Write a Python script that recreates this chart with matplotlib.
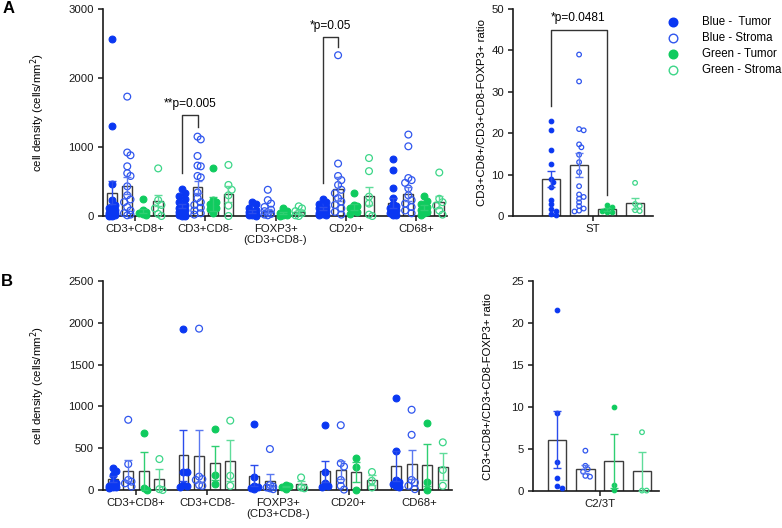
import matplotlib
matplotlib.use('Agg')
import matplotlib.pyplot as plt
from matplotlib.lines import Line2D
import numpy as np

plt.rcParams['font.family'] = ['Liberation Sans', 'DejaVu Sans']
plt.rcParams['font.size'] = 8

# ---------------- data ----------------
categories = ['CD3+CD8+', 'CD3+CD8-', 'FOXP3+\n(CD3+CD8-)', 'CD20+', 'CD68+']
series = ['Blue -  Tumor', 'Blue - Stroma', 'Green - Tumor', 'Green - Stroma']

# Panel A: cell density points per category
A_BT = [[2570, 1300, 470, 230, 160, 120, 90, 70, 50, 40, 30, 20, 10, 5, 0],
        [390, 340, 290, 240, 200, 160, 120, 90, 60, 40, 20, 10, 5, 0],
        [200, 170, 120, 90, 60, 40, 30, 20, 10, 5],
        [240, 200, 170, 130, 110, 90, 70, 50, 30, 20, 10],
        [830, 660, 400, 260, 170, 140, 110, 80, 60, 40, 20, 10]]
A_BS = [[1730, 920, 880, 720, 620, 580, 430, 300, 240, 200, 130, 80, 40, 20, 10],
        [1150, 1110, 870, 730, 720, 580, 560, 340, 260, 200, 160, 120, 80, 40, 20],
        [380, 230, 180, 130, 90, 70, 50, 30, 20, 10],
        [2330, 760, 580, 520, 450, 380, 330, 260, 210, 160, 110, 60, 20],
        [1180, 1010, 550, 520, 480, 400, 300, 230, 180, 130, 80, 40]]
A_GT = [[240, 90, 60, 40, 30, 20],
        [695, 230, 200, 170, 120, 100, 40],
        [120, 70, 40, 20, 10, 5],
        [340, 160, 150, 120, 100, 60, 30],
        [290, 220, 170, 130, 90, 60, 40, 20]]
A_GS = [[690, 230, 160, 110, 30, 0],
        [740, 450, 380, 300, 150, 0],
        [140, 110, 70, 40, 10, 0],
        [840, 650, 280, 180, 20, 0],
        [630, 250, 200, 150, 80, 20]]
A_mean_BT = [339, 145, 70, 111, 193]
A_mean_BS = [440, 416, 75, 386, 319]
A_mean_GT = [77, 179, 40, 133, 126]
A_mean_GS = [220, 319, 60, 290, 198]
A_sem_BT = [170, 35, 20, 25, 75]
A_sem_BS = [120, 85, 30, 175, 100]
A_sem_GT = [30, 100, 15, 40, 35]
A_sem_GS = [80, 110, 25, 130, 85]

# Panel A right: ratio, ST
ST_BT = [23, 20.8, 16, 12.6, 8.9, 8.2, 7.1, 3.8, 2.8, 1.7, 1.3, 0.4, 0.3]
ST_BS = [39, 32.5, 21, 20.7, 17.3, 16.6, 14.8, 13, 10.6, 7.2, 5.2, 4.6, 4.2, 3.3, 2.4, 1.8, 1.3, 1.1]
ST_GT = [2.7, 2.1, 1.6, 1.3, 1.0, 0.9]
ST_GS = [8.0, 2.9, 2.4, 1.4, 1.2]
ST_mean = [8.9, 12.4, 1.6, 3.1]
ST_sem = [2.0, 2.9, 0.3, 1.3]

# Panel B: cell density
B_BT = [[260, 230, 180, 100, 80, 50, 40, 30, 20],
        [1920, 220, 210, 60, 50, 30],
        [790, 150, 50, 30, 20, 10],
        [780, 210, 80, 50, 30],
        [1100, 470, 120, 90, 70, 50, 30]]
B_BS = [[840, 310, 120, 100, 80, 40],
        [1930, 160, 130, 120, 60, 50],
        [490, 60, 40, 30, 20, 10],
        [775, 320, 280, 120, 50, 5],
        [960, 660, 120, 90, 50, 10]]
B_GT = [[680, 20, 5], [730, 175, 70], [60, 50, 30, 10], [380, 280, 0], [800, 100, 0]]
B_GS = [[370, 10, 0], [830, 170, 50], [150, 30, 20], [215, 110, 30], [570, 240, 50]]
B_mean_BT = [127, 415, 170, 222, 287]
B_mean_BS = [231, 410, 111, 240, 306]
B_mean_GT = [231, 325, 40, 219, 298]
B_mean_GS = [127, 350, 67, 119, 279]
B_sem_BT = [35, 305, 128, 122, 180]
B_sem_BS = [127, 310, 80, 110, 170]
B_sem_GT = [227, 205, 10, 120, 255]
B_sem_GS = [124, 245, 40, 60, 160]

# Panel B right: ratio, C2/3T
C_BT = [21.6, 9.25, 3.4, 1.6, 0.6, 0.3]
C_BS = [4.8, 3.0, 2.6, 2.3, 1.8, 1.7]
C_GT = [10.0, 0.7, 0.1]
C_GS = [7.0, 0.05, 0.05]
C_mean = [6.1, 2.6, 3.6, 2.35]
C_sem = [3.4, 0.45, 3.2, 2.35]

# ---------------- style ----------------
BLUE = '#0a37f2'
BLUE_O = '#3056ee'
GREEN = '#0fcb5e'
GREEN_O = '#3cd688'
colors = [BLUE, BLUE_O, GREEN, GREEN_O]
ecolors = ['#2a4cec', '#5a78f0', '#2fcf72', '#5fdc9a']
filled = [True, False, True, False]
BAR_EDGE = '#3d3d3d'
AX_COL = '#1a1a1a'

W, H = 782, 528
fig = plt.figure(figsize=(W / 100, H / 100), dpi=100)


def add_ax(x0, y0, x1, y1):
    return fig.add_axes([x0 / W, 1 - y1 / H, (x1 - x0) / W, (y1 - y0) / H])


def style(ax):
    for s in ['top', 'right']:
        ax.spines[s].set_visible(False)
    for s in ['left', 'bottom']:
        ax.spines[s].set_linewidth(1.2)
        ax.spines[s].set_color(AX_COL)
    ax.tick_params(axis='both', direction='out', length=3.5, width=1.1,
                   colors=AX_COL, labelsize=8.2, pad=2)
    ax.tick_params(axis='y', pad=3)
    ax.patch.set_alpha(0)


def swarm_x(ax, xc, vals, diam_px, maxhalf_px):
    tr = ax.transData
    px_per_x = tr.transform((1, 0))[0] - tr.transform((0, 0))[0]
    order = np.argsort(-np.asarray(vals, dtype=float))
    placed = []
    xs = np.zeros(len(vals))
    step = diam_px * 0.5
    cands = [0.0]
    k = 1
    while k * step <= maxhalf_px + 1e-6:
        cands += [k * step, -k * step]
        k += 1
    for i in order:
        yp = tr.transform((xc, vals[i]))[1]
        best, bestd = None, -1
        for c in cands:
            if placed:
                d = min(np.hypot(c - px, yp - py) for px, py in placed)
            else:
                d = 1e9
            if d >= diam_px * 0.75:
                best = c
                break
            if d > bestd:
                bestd, best = d, c
        placed.append((best, yp))
        xs[i] = xc + best / px_per_x
    return xs


def draw_group(ax, x, mean, sem, pts, si, width, diam, maxhalf, ms):
    ax.bar(x, mean, width=width, facecolor='white', edgecolor=BAR_EDGE,
           linewidth=1.0, zorder=1)
    xs = swarm_x(ax, x, pts, diam, maxhalf)
    if filled[si]:
        ax.scatter(xs, pts, s=ms, facecolor=colors[si], edgecolor=colors[si],
                   linewidth=0.8, zorder=3, clip_on=False)
    else:
        ax.scatter(xs, pts, s=ms, facecolor='none', edgecolor=colors[si],
                   linewidth=0.9, zorder=3, clip_on=False)
    ax.errorbar([x], [mean], yerr=[sem], fmt='none', ecolor=ecolors[si],
                elinewidth=1.0, capsize=3.2, capthick=1.0, zorder=4)


offsets = [-0.33, -0.11, 0.11, 0.33]

# ---------- Panel A left ----------
axA = add_ax(103, 9, 447, 216)
style(axA)
axA.set_xlim(-0.455, 4.44)
axA.set_ylim(0, 3000)
axA.set_yticks([0, 1000, 2000, 3000])
axA.set_xticks(range(len(categories)))
axA.set_xticklabels(categories)
A_pts = [A_BT, A_BS, A_GT, A_GS]
A_means = [A_mean_BT, A_mean_BS, A_mean_GT, A_mean_GS]
A_sems = [A_sem_BT, A_sem_BS, A_sem_GT, A_sem_GS]
for ci in range(len(categories)):
    for si in range(4):
        draw_group(axA, ci + offsets[si], A_means[si][ci], A_sems[si][ci],
                   A_pts[si][ci], si, 0.14, 6.5, 4.5, 24)
axA.set_ylabel('cell density (cells/mm$^2$)', fontsize=8.2)
axA.yaxis.set_label_coords(-0.163, 0.5)

br = '#333333'
xl, xr = 1 + offsets[0], 1 + offsets[1]
axA.plot([xl, xl, xr, xr], [620, 1467, 1467, 1297], color=br, lw=1.0, zorder=5)
axA.text((xl + xr) / 2, 1623, '**p=0.005', ha='center', va='center', fontsize=8.6)
xl, xr = 3 + offsets[0], 3 + offsets[1]
axA.plot([xl, xl, xr, xr], [484, 2594, 2594, 2444], color=br, lw=1.0, zorder=5)
axA.text((xl + xr) / 2, 2749, '*p=0.05', ha='center', va='center', fontsize=8.6)

# ---------- Panel A right ----------
axAr = add_ax(513, 9, 653, 216)
style(axAr)
axAr.set_xlim(-1.36, 3.64)
axAr.set_ylim(0, 50)
axAr.set_yticks([0, 10, 20, 30, 40, 50])
axAr.set_xticks([1.5])
axAr.set_xticklabels(['ST'])
ST_pts = [ST_BT, ST_BS, ST_GT, ST_GS]
for si in range(4):
    draw_group(axAr, si, ST_mean[si], ST_sem[si], ST_pts[si], si, 0.65,
               4.6, 8.0, 11)
axAr.set_ylabel('CD3+CD8+/CD3+CD8-FOXP3+ ratio', fontsize=8.2)
axAr.yaxis.set_label_coords(-0.186, 0.5)
axAr.plot([0, 0, 2, 2], [26.5, 45, 45, 5.1], color=br, lw=1.0, zorder=5)
axAr.text(0.98, 47.8, '*p=0.0481', ha='center', va='center', fontsize=8.6)

# ---------- Panel B left ----------
axB = add_ax(103, 281, 452, 490)
style(axB)
axB.set_xlim(-0.466, 4.46)
axB.set_ylim(0, 2500)
axB.set_yticks([0, 500, 1000, 1500, 2000, 2500])
axB.set_xticks(range(len(categories)))
axB.set_xticklabels(categories)
B_pts = [B_BT, B_BS, B_GT, B_GS]
B_means = [B_mean_BT, B_mean_BS, B_mean_GT, B_mean_GS]
B_sems = [B_sem_BT, B_sem_BS, B_sem_GT, B_sem_GS]
for ci in range(len(categories)):
    for si in range(4):
        draw_group(axB, ci + offsets[si], B_means[si][ci], B_sems[si][ci],
                   B_pts[si][ci], si, 0.14, 6.5, 4.5, 24)
axB.set_ylabel('cell density (cells/mm$^2$)', fontsize=8.2)
axB.yaxis.set_label_coords(-0.160, 0.5)

# ---------- Panel B right ----------
axBr = add_ax(533, 281, 659, 491)
style(axBr)
axBr.set_xlim(-0.85, 3.6)
axBr.set_ylim(0, 25)
axBr.set_yticks([0, 5, 10, 15, 20, 25])
axBr.set_xticks([1.5])
axBr.set_xticklabels(['C2/3T'])
C_pts = [C_BT, C_BS, C_GT, C_GS]
for si in range(4):
    draw_group(axBr, si, C_mean[si], C_sem[si], C_pts[si], si, 0.65,
               4.6, 8.0, 11)
axBr.set_ylabel('CD3+CD8+/CD3+CD8-FOXP3+ ratio', fontsize=8.2)
axBr.yaxis.set_label_coords(-0.317, 0.5)

# ---------- legend ----------
leg_y = [22, 38, 54, 70]
for si in range(4):
    fy = 1 - leg_y[si] / H
    fig.add_artist(Line2D([673 / W], [fy], marker='o', markersize=6.2,
                          markerfacecolor=colors[si] if filled[si] else 'none',
                          markeredgecolor=colors[si], markeredgewidth=1.0,
                          linestyle='none', transform=fig.transFigure))
    fig.text(702 / W, fy, series[si], ha='left', va='center', fontsize=8.3)

# ---------- panel letters ----------
fig.text(3 / W, 1 - 1 / H, 'A', ha='left', va='top', fontsize=12, fontweight='bold')
fig.text(1 / W, 1 - 274 / H, 'B', ha='left', va='top', fontsize=12, fontweight='bold')

fig.savefig('out.png', dpi=100)
